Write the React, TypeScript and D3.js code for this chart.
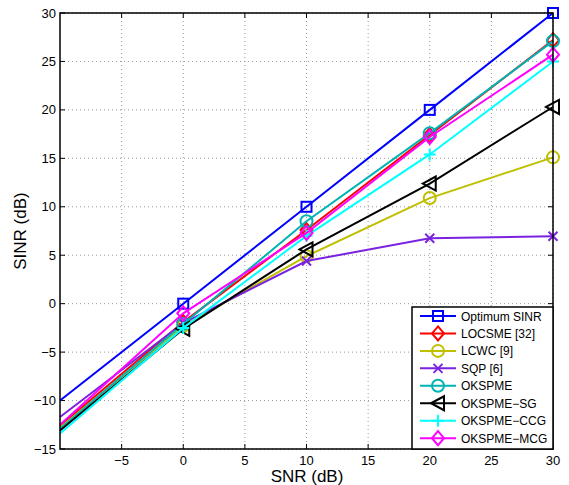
import React from "react";
import * as d3 from "d3";

const snr = [-10, 0, 10, 20, 30];
const markerSnr = [0, 10, 20, 30];
const seriesNames = ["Optimum SINR", "LOCSME [32]", "LCWC [9]", "SQP [6]", "OKSPME", "OKSPME\u2212SG", "OKSPME\u2212CCG", "OKSPME\u2212MCG"];
const optimum = [-10, 0, 10, 20, 30];
const locsme = [-12.6, -1.9, 7.6, 17.4, 27.2];
const lcwc = [-12.8, -2.3, 4.9, 10.9, 15.1];
const sqp = [-11.7, -2.0, 4.4, 6.75, 6.95];
const okspme = [-12.9, -2.1, 8.5, 17.6, 27.1];
const okspmeSG = [-13.1, -2.6, 5.6, 12.4, 20.3];
const okspmeCCG = [-13.4, -2.5, 7.0, 15.4, 25.0];
const okspmeMCG = [-12.5, -1.0, 7.3, 17.2, 25.7];
const xTicks = [-5, 0, 5, 10, 15, 20, 25, 30];
const yTicks = [-15, -10, -5, 0, 5, 10, 15, 20, 25, 30];

const colors = ["#0000ff", "#ff0000", "#bfbf00", "#7b22e0", "#00b3b3", "#000000", "#00ffff", "#ff00ff"];
const markers = ["square", "diamond", "circle", "x", "circle", "triangleLeft", "plus", "diamond"];
const values = [optimum, locsme, lcwc, sqp, okspme, okspmeSG, okspmeCCG, okspmeMCG];

function Marker({ type, x, y, color }: { type: string; x: number; y: number; color: string }) {
  const sw = 2;
  if (type === "square") return <rect x={x - 5} y={y - 5} width={10} height={10} fill="none" stroke={color} strokeWidth={sw} />;
  if (type === "circle") return <circle cx={x} cy={y} r={6} fill="none" stroke={color} strokeWidth={sw} />;
  if (type === "diamond") return <path d={`M${x},${y - 7}L${x + 6},${y}L${x},${y + 7}L${x - 6},${y}Z`} fill="none" stroke={color} strokeWidth={sw} />;
  if (type === "x") return <path d={`M${x - 4.5},${y - 4.5}L${x + 4.5},${y + 4.5}M${x - 4.5},${y + 4.5}L${x + 4.5},${y - 4.5}`} stroke={color} strokeWidth={sw} />;
  if (type === "plus") return <path d={`M${x - 6},${y}L${x + 6},${y}M${x},${y - 6}L${x},${y + 6}`} stroke={color} strokeWidth={sw} />;
  if (type === "triangleLeft") return <path d={`M${x - 7},${y}L${x + 6},${y - 7}L${x + 6},${y + 7}Z`} fill="none" stroke={color} strokeWidth={sw} />;
  return null;
}

export default function App() {
  const W = 569, H = 485;
  const left = 60, right = 553, top = 13, bottom = 449;
  const x = d3.scaleLinear().domain([-10, 30]).range([left, right]);
  const y = d3.scaleLinear().domain([-15, 30]).range([bottom, top]);
  const line = d3.line<number>().x((_, i) => x(snr[i])).y((d) => y(d));
  const font = "'Liberation Sans', Arial, sans-serif";

  const legLeft = 412, legTop = 307, legRight = 553, legBottom = 449;
  const rowH = 17.45;

  return (
    <svg width={W} height={H} style={{ position: "absolute", left: 0, top: 0, background: "#fff" }} fontFamily={font}>
      <rect x={0} y={0} width={W} height={H} fill="#fff" />
      {/* grid */}
      {xTicks.map((t) => (
        <line key={"gx" + t} x1={x(t)} x2={x(t)} y1={top} y2={bottom} stroke="#999" strokeWidth={1} strokeDasharray="1,3" />
      ))}
      {yTicks.map((t) => (
        <line key={"gy" + t} x1={left} x2={right} y1={y(t)} y2={y(t)} stroke="#999" strokeWidth={1} strokeDasharray="1,3" />
      ))}
      {/* ticks inward */}
      {xTicks.map((t) => (
        <g key={"tx" + t}>
          <line x1={x(t)} x2={x(t)} y1={bottom} y2={bottom - 5} stroke="#000" />
          <line x1={x(t)} x2={x(t)} y1={top} y2={top + 5} stroke="#000" />
          <text x={x(t)} y={465} fontSize={13} textAnchor="middle">{t < 0 ? "\u2212" + Math.abs(t) : t}</text>
        </g>
      ))}
      {yTicks.map((t) => (
        <g key={"ty" + t}>
          <line x1={left} x2={left + 5} y1={y(t)} y2={y(t)} stroke="#000" />
          <line x1={right} x2={right - 5} y1={y(t)} y2={y(t)} stroke="#000" />
          <text x={left - 4} y={y(t) + 4.5} fontSize={13} textAnchor="end">{t < 0 ? "\u2212" + Math.abs(t) : t}</text>
        </g>
      ))}
      {/* series */}
      {values.map((v, si) => (
        <g key={"s" + si}>
          <path d={line(v) || ""} fill="none" stroke={colors[si]} strokeWidth={2} />
          {markerSnr.map((m) => {
            const i = snr.indexOf(m);
            return <Marker key={m} type={markers[si]} x={x(m)} y={y(v[i])} color={colors[si]} />;
          })}
        </g>
      ))}
      {/* axes box */}
      <rect x={left} y={top} width={right - left} height={bottom - top} fill="none" stroke="#000" strokeWidth={1.5} />
      {/* legend */}
      <rect x={legLeft} y={legTop} width={legRight - legLeft} height={legBottom - legTop} fill="#fff" stroke="#000" strokeWidth={1.5} />
      {seriesNames.map((n, i) => {
        const cy = legTop + 9 + i * rowH;
        return (
          <g key={"l" + i}>
            <line x1={420} x2={456} y1={cy} y2={cy} stroke={colors[i]} strokeWidth={2} />
            <Marker type={markers[i]} x={438} y={cy} color={colors[i]} />
            <text x={461} y={cy + 4.5} fontSize={12}>{n}</text>
          </g>
        );
      })}
      {/* axis labels */}
      <text x={307} y={482} fontSize={17} textAnchor="middle">SNR (dB)</text>
      <text transform={`translate(26,${(top + bottom) / 2}) rotate(-90)`} fontSize={17} textAnchor="middle">SINR (dB)</text>
    </svg>
  );
}
